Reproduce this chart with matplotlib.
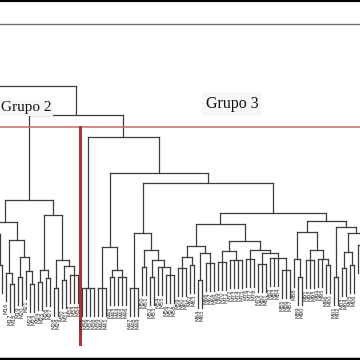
import matplotlib.pyplot as plt

L = None  # a leaf (one sampled unit)

# cluster trees: [merge height, child, child, ...]
grupo1 = [17.0, [12.0, L, L, L, [9.0, L, L]], [14.0, [8.0, L, L], [10.0, L, L, L]]]

grupo2 = [13.0,
          [10.8,
           [9.6, [7.0, L, L, L, L], [6.5, L, L]],
           [9.0,
            [5.7, L, [4.6, L, L]],
            [7.3, [5.3, L, L], [5.9, L, [4.6, L, L]]]]],
          [11.5,
           [6.0, [4.8, L, L], [5.2, L, L]],
           [7.0, [4.2, L, L], [6.4, [5.0, L, L], [5.5, L, L, L]]]]]

sub_a = [4.2, L, L, L, L]
sub_b = [8.3, [4.2, L, L, L], [6.0, [5.3, L, L], [5.3, L, L, L]]]
sub_c = [9.7, [4.2, L, L, L],
         [8.0, [6.3, L, L],
          [7.0, [5.3, L, L], [6.3, L, L, [5.5, L, L, L]]]]]
sub_dl = [10.6,
          [8.4, [7.3, [6.2, L, L, L], [6.5, L, L]],
           [7.7, [5.0, L, L], [6.7, L, L, L]]],
          [8.9, [7.9, [6.8, L, L, L], [7.0, L, L, L, L]],
           [8.0, [7.1, L, L, L],
            [7.7, [6.6, L, L, L], [7.2, L, L, L, [6.0, L, L, L]]]]]]
sub_dr = [10.9,
          [9.8, [7.1, L, [5.3, L, L]],
           [8.0, [7.0, L, L, L], [7.1, L, L, [6.5, L, L]]]],
          [10.3, [5.3, L, L],
           [9.7, [7.8, [6.2, L, L], [6.5, L, L]], [8.5, L, L, L, L]]]]
grupo3 = [19.3, sub_a, [15.7, sub_b, [14.7, sub_c, [11.7, sub_dl, sub_dr]]]]

tree = [24.4, grupo1, [21.5, grupo2, grupo3]]
cut_height = 20.3
group_names = ["Grupo 2", "Grupo 3"]

hang = 2.8
line_col = "#3c3c3c"


def count(node):
    if node is None:
        return 1
    return sum(count(c) for c in node[1:])


first_g3 = count(grupo1) + count(grupo2)
x_left = first_g3 - 82 / 4.0
x_right = x_left + 90

fig = plt.figure(figsize=(3.6, 3.6), dpi=100)
ax = fig.add_axes([0, 0, 1, 1])
ax.set_axis_off()

state = {"i": 0}


def draw(node):
    h = node[0]
    xs = []
    for child in node[1:]:
        if child is None:
            x = state["i"]
            state["i"] += 1
            ax.plot([x, x], [h - hang, h], color=line_col, lw=0.9)
            if x_left + 0.5 < x < x_right - 0.5:
                ax.text(x, h - hang - 0.1, "M%02d" % (x % 97), rotation=90,
                        ha="center", va="top", fontsize=4, color="#2e2e2e",
                        family="DejaVu Sans")
        else:
            x, ch = draw(child)
            ax.plot([x, x], [ch, h], color=line_col, lw=0.9)
        xs.append(x)
    ax.plot([min(xs), max(xs)], [h, h], color=line_col, lw=0.9)
    return (min(xs) + max(xs)) / 2, h


draw(tree)
ax.set_xlim(x_left, x_right)
ax.set_ylim(-3, 33)

# cut line and group separator
ax.axhline(cut_height, color="#c46a6a", lw=1.1)
sep = first_g3 - 0.5
ax.plot([sep, sep], [cut_height, -1.4], color="#a83434", lw=2.2)

ax.text(x_left + 0.3, 22.2, group_names[0], ha="left", va="center",
        fontsize=11, family="Liberation Serif", color="#111111",
        bbox=dict(facecolor="#f7f7f7", edgecolor="none", pad=1.0))
ax.text(x_left + 58, 22.6, group_names[1], ha="center", va="center",
        fontsize=11.5, family="Liberation Serif", color="#111111",
        bbox=dict(facecolor="#f7f7f7", edgecolor="none", pad=3))

# page frame
ax.axhline(32.9, color="black", lw=1.5)
ax.axhline(30.6, color="#6e6e6e", lw=1.0)
ax.axhline(-2.85, color="black", lw=2.5)

fig.savefig("out.png", dpi=100)
